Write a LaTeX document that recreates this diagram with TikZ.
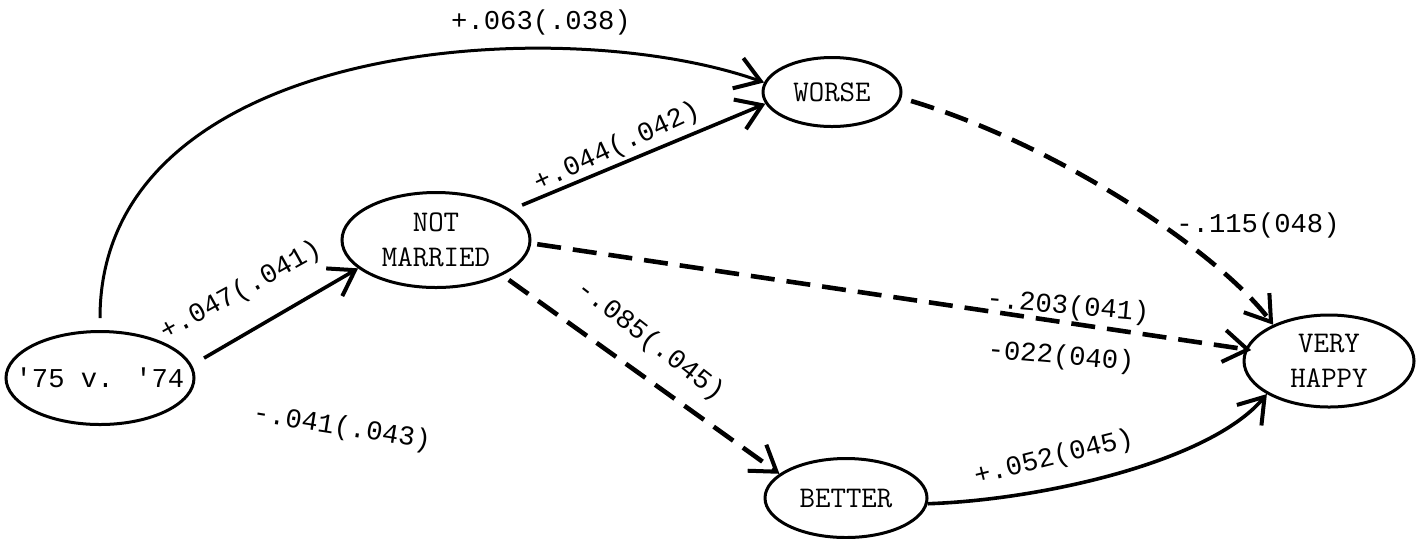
\documentclass[tikz,border=0pt]{standalone}
\usepackage{fontspec}
\usetikzlibrary{arrows.meta,shapes.geometric}
\newfontfamily\coeffont{Liberation Mono}

\tikzset{
  varnode/.style={ellipse, draw, line width=1.5pt, inner sep=0pt, align=center,
    font=\ttfamily\fontsize{15}{17.5}\selectfont\addfontfeature{FakeBold=1.2}},
  effect/.style={line width=1.8pt, -{Straight Barb[length=12pt,width=16pt,line width=2pt]}},
  negeffect/.style={effect, line width=2.3pt, dash pattern=on 12pt off 6pt},
  coef/.style={font=\coeffont\fontsize{13.6}{16}\selectfont, inner sep=0pt}
}

\begin{document}
\begin{tikzpicture}[x=0.5pt,y=-0.5pt]
\path[use as bounding box] (0,0) rectangle (1417,538);
\fill[white] (0,0) rectangle (1417,538);

% variables
\node[varnode, minimum width=94pt, minimum height=46.5pt] (yr) at (100,378)
  {\makebox[0pt]{\coeffont\fontsize{13.6}{16}\selectfont\textquotesingle75 v. \textquotesingle74}};
\node[varnode, minimum width=94pt, minimum height=47.5pt] (nm) at (436,240) {NOT\\MARRIED};
\node[varnode, minimum width=69pt, minimum height=34.5pt] (wo) at (832,92) {WORSE};
\node[varnode, minimum width=81pt, minimum height=39.5pt] (be) at (846,498) {BETTER};
\node[varnode, minimum width=85pt, minimum height=46pt] (vh) at (1329,361) {VERY\\HAPPY};

% paths
\draw[effect, shorten <=7pt] (yr.8) -- (nm.200);
\draw[effect, line width=1.5pt, shorten <=6pt] (yr.north) .. controls (100,40) and (560,10) .. (wo.172);
\draw[effect, shorten <=6pt] (nm.22) -- (wo.190);
\draw[negeffect, shorten <=5pt] (wo.-5) .. controls (1055,144) and (1217,250) .. (vh.147);
\draw[negeffect, shorten <=3pt, shorten >=-3pt] (nm.-2) -- (vh.172);
\draw[negeffect, shorten <=4pt] (nm.-28) -- (be.160);
\draw[effect] (be.-4) .. controls (1040,500) and (1210,462) .. (vh.208);

% coefficients
\node[coef] (c1) at (541,22) {+.063(.038)};
\node[coef, rotate=25] (c2) at (617,147) {+.044(.042)};
\node[coef, rotate=29] (c3) at (241,291) {+.047(.041)};
\node[coef, rotate=-38] (c4) at (650,341) {-.085(.045)};
\node[coef, rotate=-5] (c5) at (1068,307) {-.203(041)};
\node[coef, rotate=-5] (c6) at (1061,357) {-022(040)};
\node[coef] (c7) at (1258,225) {-.115(048)};
\node[coef, rotate=14] (c8) at (1054,458) {+.052(045)};
\node[coef, rotate=-9] (c9) at (342,428) {-.041(.043)};
\end{tikzpicture}
\end{document}
